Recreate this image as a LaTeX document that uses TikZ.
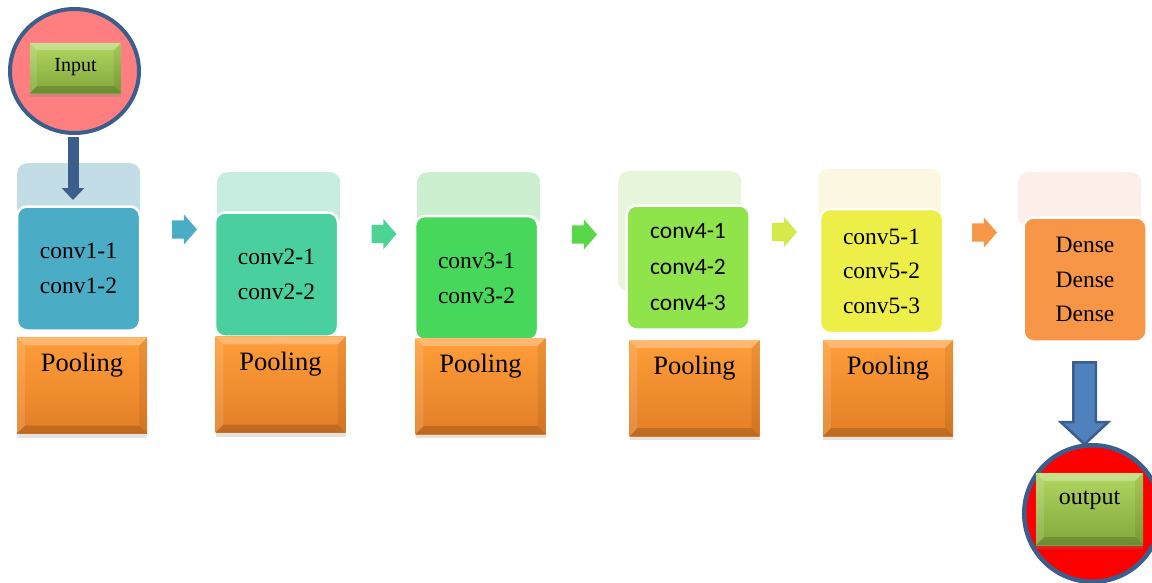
\documentclass[tikz,border=0pt]{standalone}
\usepackage{fontspec}
\setmainfont{Liberation Serif}
\newfontfamily\calibfont{Carlito}
\usetikzlibrary{shapes.arrows,shapes.geometric,shadows,arrows.meta,calc}
\definecolor{ringblue}{HTML}{3B5E8C}
\definecolor{arrblue}{HTML}{4F81BD}
\definecolor{pinkfill}{HTML}{FF7F80}
\definecolor{fA}{HTML}{4BACC6}\definecolor{kA}{HTML}{C2DDE5}
\definecolor{fB}{HTML}{4ACF9F}\definecolor{kB}{HTML}{C7EDE1}
\definecolor{fC}{HTML}{47D85B}\definecolor{kC}{HTML}{CCEFD2}
\definecolor{fD}{HTML}{8FE44B}\definecolor{kD}{HTML}{E7F5DA}
\definecolor{fE}{HTML}{EDEF48}\definecolor{kE}{HTML}{FBF7E0}
\definecolor{fF}{HTML}{F79646}\definecolor{kF}{HTML}{FDEEE9}
\definecolor{aB}{HTML}{4CD494}\definecolor{aC}{HTML}{58D848}\definecolor{aD}{HTML}{D3EA4A}
\definecolor{poolTop}{HTML}{FF9E3A}\definecolor{poolBot}{HTML}{E27E26}
\definecolor{btnTop}{HTML}{B2D660}\definecolor{btnBot}{HTML}{82A73C}
\newcommand\bevel[2]{%
  \fill[white,opacity=.28] (#1.north west) -- (#1.north east) -- ([shift={(-#2,#2)}]#1.north east) -- ([shift={(#2,#2)}]#1.north west) -- cycle;
  \fill[white,opacity=.12] (#1.north west) -- ([shift={(#2,#2)}]#1.north west) -- ([shift={(#2,-#2)}]#1.south west) -- (#1.south west) -- cycle;
  \fill[black,opacity=.07] (#1.north east) -- (#1.south east) -- ([shift={(-#2,-#2)}]#1.south east) -- ([shift={(-#2,#2)}]#1.north east) -- cycle;
  \fill[black,opacity=.16] (#1.south west) -- (#1.south east) -- ([shift={(-#2,-#2)}]#1.south east) -- ([shift={(#2,-#2)}]#1.south west) -- cycle;
}
\begin{document}
\begin{tikzpicture}[x=1pt,y=-1pt,
  backbox/.style={rounded corners=10pt, anchor=north west, minimum width=123pt, minimum height=55pt, inner sep=0pt},
  frontbox/.style={rounded corners=10pt, draw=white, line width=2.5pt, minimum width=123pt, minimum height=124pt, align=center, inner sep=0pt, font=\fontsize{23.5}{35}\selectfont},
  poolbox/.style={minimum width=130pt, minimum height=96pt, inner sep=0pt, top color=poolTop, bottom color=poolBot, drop shadow={shadow xshift=0pt, shadow yshift=-4pt, opacity=.22}},
  pooltext/.style={anchor=base, inner sep=0pt, font=\fontsize{26.5}{30}\selectfont},
  chev/.style={single arrow, minimum height=25pt, single arrow head extend=6pt, inner xsep=0pt, inner ysep=9pt, single arrow tip angle=98, draw=none},
  btn/.style={inner sep=0pt, top color=btnTop, bottom color=btnBot, drop shadow={shadow xshift=0pt, shadow yshift=-4pt, opacity=.3}},
  ring/.style={ellipse, draw=ringblue, line width=4pt, inner sep=0pt}
]
\useasboundingbox (0,0) rectangle (1152,582);

% input
\node[ring, fill=pinkfill, minimum width=129pt, minimum height=124pt] (inc) at (74.5,71) {};
\node[btn, minimum width=91pt, minimum height=50pt] (inb) at (75.5,68) {};
\bevel{inb}{7}
\node[inner sep=0pt, font=\fontsize{20}{24}\selectfont] (int) at (75.5,67) {Input};

% back boxes
\node[backbox, fill=kA] (k1) at (17,163) {};
\node[backbox, fill=kB] (k2) at (217,172) {};
\node[backbox, fill=kC] (k3) at (417,172) {};
\node[backbox, fill=kD, minimum height=120pt] (k4) at (618,171) {};
\node[backbox, fill=kE] (k5) at (818,169) {};
\node[backbox, fill=kF] (k6) at (1018,172) {};

% input arrow
\coordinate (a0e) at (73,200);
\draw[ringblue, line width=11pt, -{Triangle[width=22pt,length=12pt]}, shorten <=2pt] (inc.south -| a0e) -- (a0e);

% front boxes
\node[frontbox, fill=fA] (f1) at (78.5,268.5) {conv1-1\\conv1-2};
\node[frontbox, fill=fB] (f2) at (276.5,274.5) {conv2-1\\conv2-2};
\node[frontbox, fill=fC, minimum height=124pt] (f3) at (476.5,278) {conv3-1\\conv3-2};
\node[frontbox, fill=fD, font=\calibfont\fontsize{23.5}{36}\selectfont] (f4) at (688,267.5) {conv4-1\\conv4-2\\conv4-3};
\node[frontbox, fill=fE, font=\fontsize{23.5}{34.5}\selectfont] (f5) at (881.5,271) {conv5-1\\conv5-2\\conv5-3};
\node[frontbox, fill=fF, font=\fontsize{23.5}{34.5}\selectfont] (f6) at (1085,279.5) {Dense\\Dense\\Dense};

% pooling
\node[poolbox] (p1) at (82,385.5) {};
\node[poolbox] (p2) at (280.5,384.5) {};
\node[poolbox] (p3) at (480.5,386) {};
\node[poolbox] (p4) at (694.5,388) {};
\node[poolbox] (p5) at (888,388) {};
\foreach \p in {p1,p2,p3,p4,p5}{\bevel{\p}{8}}
\node[pooltext] (t1) at ($(p1.north)+(0,34)$) {Pooling};
\node[pooltext] (t2) at ($(p2.north)+(0,34)$) {Pooling};
\node[pooltext] (t3) at ($(p3.north)+(0,35)$) {Pooling};
\node[pooltext] (t4) at ($(p4.north)+(0,35)$) {Pooling};
\node[pooltext] (t5) at ($(p5.north)+(0,35)$) {Pooling};

% chevron arrows
\node[chev, fill=fA] (a1) at (180.5,229.5) {};
\node[chev, fill=aB] (a2) at (380,234) {};
\node[chev, fill=aC] (a3) at (580.5,234.5) {};
\node[chev, fill=aD] (a4) at (780.5,232) {};
\node[chev, fill=fF] (a5) at (980.5,232.5) {};

% output
\node[single arrow, rotate=-90, minimum height=82pt, single arrow head extend=12.5pt, inner xsep=0pt, inner ysep=10pt, single arrow tip angle=94, fill=arrblue, draw=ringblue, line width=2.5pt] (oa) at (1084.5,398) {};
\node[ring, fill=red, line width=4.5pt, minimum width=136.5pt, minimum height=136.5pt] (outc) at (1092.5,513.5) {};
\node[btn, minimum width=107pt, minimum height=72pt] (outb) at (1089.5,509) {};
\bevel{outb}{8}
\node[inner sep=0pt, font=\fontsize{24}{28}\selectfont] (outt) at (1089.5,500) {output};
\end{tikzpicture}
\end{document}
